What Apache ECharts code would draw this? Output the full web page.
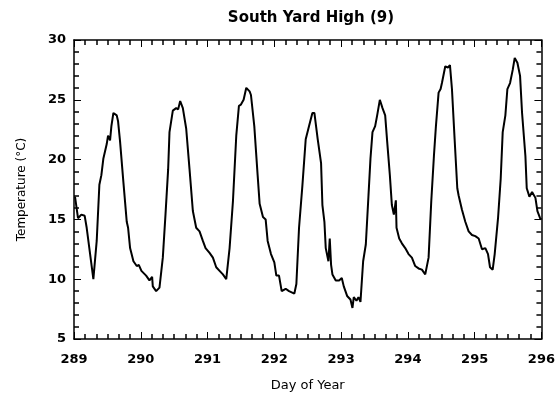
<!DOCTYPE html>
<html>
<head>
<meta charset="utf-8">
<script src="https://cdn.jsdelivr.net/npm/echarts@6/dist/echarts.min.js"></script>
<style>
  html, body { margin: 0; padding: 0; background: #fff; }
  #chart { width: 558px; height: 397px; }
</style>
</head>
<body>
<div id="chart"></div>
<script>
// day of year and temperature
const days = [
  289.015, 289.06, 289.11, 289.16, 289.19, 289.29, 289.34, 289.38, 289.41, 289.44,
  289.49, 289.51, 289.54, 289.56, 289.59, 289.64, 289.66, 289.69, 289.74, 289.79,
  289.81, 289.84, 289.89, 289.94, 289.97, 290.01, 290.03, 290.08, 290.13, 290.17,
  290.18, 290.23, 290.28, 290.33, 290.37, 290.41, 290.43, 290.48, 290.53, 290.56,
  290.59, 290.63, 290.68, 290.73, 290.78, 290.83, 290.88, 290.93, 290.97, 291.03,
  291.08, 291.13, 291.18, 291.23, 291.28, 291.33, 291.38, 291.43, 291.47, 291.50,
  291.54, 291.58, 291.63, 291.65, 291.70, 291.75, 291.78, 291.83, 291.87, 291.90,
  291.95, 292.00, 292.03, 292.07, 292.11, 292.17, 292.22, 292.30, 292.33, 292.37,
  292.42, 292.47, 292.52, 292.57, 292.60, 292.65, 292.70, 292.72, 292.75, 292.77,
  292.81, 292.83, 292.85, 292.87, 292.92, 292.97, 293.01, 293.04, 293.09, 293.14,
  293.17, 293.19, 293.23, 293.26, 293.29, 293.33, 293.37, 293.41, 293.44, 293.47,
  293.51, 293.54, 293.58, 293.62, 293.66, 293.69, 293.73, 293.76, 293.79, 293.82,
  293.83, 293.87, 293.91, 293.96, 294.01, 294.06, 294.11, 294.16, 294.21, 294.26,
  294.31, 294.35, 294.39, 294.42, 294.46, 294.49, 294.51, 294.56, 294.60, 294.63,
  294.66, 294.70, 294.74, 294.76, 294.81, 294.86, 294.91, 294.96, 295.01, 295.06,
  295.11, 295.16, 295.20, 295.23, 295.27, 295.30, 295.35, 295.39, 295.42, 295.46,
  295.49, 295.53, 295.57, 295.60, 295.64, 295.68, 295.71, 295.76, 295.78, 295.82,
  295.86, 295.91, 295.94, 295.98, 296.00
]
const temps = [
  16.9, 15.1, 15.4, 15.3, 14.3, 10.0, 13.2, 17.9, 18.7, 20.1,
  21.3, 22.0, 21.6, 22.8, 23.9, 23.7, 23.2, 21.5, 18.1, 14.8,
  14.3, 12.6, 11.5, 11.1, 11.2, 10.7, 10.8, 10.3, 9.9, 10.2,
  9.4, 9.0, 9.3, 11.8, 15.4, 19.2, 22.3, 24.1, 24.3, 24.2,
  24.9, 24.3, 22.6, 19.2, 15.7, 14.3, 14.0, 13.2, 12.6, 12.2,
  11.8, 11.0, 10.7, 10.4, 10.0, 12.6, 16.5, 22.0, 24.5, 24.6,
  25.0, 26.0, 25.7, 25.4, 22.8, 18.7, 16.3, 15.2, 15.0, 13.2,
  12.1, 11.4, 10.3, 10.3, 9.0, 9.2, 9.0, 8.8, 9.6, 14.3,
  17.8, 21.7, 22.8, 23.9, 23.9, 21.7, 19.7, 16.2, 14.8, 12.6,
  11.5, 13.4, 11.2, 10.4, 9.9, 9.9, 10.1, 9.4, 8.6, 8.3,
  7.6, 8.5, 8.2, 8.5, 8.1, 11.5, 12.9, 17.0, 20.1, 22.3,
  22.8, 23.7, 25.0, 24.3, 23.7, 21.5, 18.7, 16.2, 15.4, 16.6,
  14.3, 13.4, 13.0, 12.6, 12.1, 11.8, 11.1, 10.9, 10.8, 10.4,
  11.8, 16.5, 20.3, 22.8, 25.6, 25.9, 26.4, 27.8, 27.7, 27.9,
  25.9, 21.7, 17.6, 17.0, 15.8, 14.8, 14.0, 13.7, 13.6, 13.4,
  12.5, 12.6, 12.1, 11.0, 10.8, 12.1, 15.1, 18.4, 22.3, 23.7,
  25.9, 26.4, 27.5, 28.5, 28.1, 27.0, 23.9, 20.3, 17.6, 16.9,
  17.3, 16.8, 15.7, 15.1, 15.0
]

const xMin = 289, xMax = 296, xStep = 1
const yMin = 5, yMax = 30, yStep = 5

const fontFamily = '"DejaVu Sans", "Liberation Sans", sans-serif'

// frame axis with inward major + minor ticks
function frameAxis(extra, minorSplit) {
  return Object.assign({
    type: 'value',
    axisLine: { show: true, onZero: false, lineStyle: { color: '#000', width: 1.5 } },
    axisTick: { show: true, inside: true, length: 7 },
    minorTick: { show: true, splitNumber: minorSplit, length: 5, lineStyle: { color: '#000', width: 1.5 } },
    splitLine: { show: false }
  }, extra)
}

const chart = echarts.init(document.getElementById('chart'))

const option = {
  animation: false,
  backgroundColor: '#fff',
  title: {
    text: 'South Yard High (9)',
    left: 306,
    textAlign: 'center',
    top: 6,
    textStyle: { fontFamily, fontSize: 15, fontWeight: 'bold', color: '#000' }
  },
  grid: { left: 74, right: 15, top: 40, bottom: 55 },
  xAxis: [
    frameAxis({
      min: xMin, max: xMax, interval: xStep, position: 'bottom',
      name: 'Day of Year',
      nameLocation: 'middle',
      nameGap: 40,
      nameTextStyle: { fontFamily, fontSize: 13, color: '#000' },
      axisLabel: { margin: 14, fontFamily, fontSize: 13, fontWeight: 'bold', color: '#000' }
    }, 6),
    frameAxis({
      min: xMin, max: xMax, interval: xStep, position: 'top',
      axisLabel: { show: false }
    }, 6)
  ],
  yAxis: [
    frameAxis({
      min: yMin, max: yMax, interval: yStep, position: 'left',
      name: 'Temperature (°C)',
      nameLocation: 'middle',
      nameGap: 46,
      nameRotate: 90,
      nameTextStyle: { fontFamily, fontSize: 12, color: '#000' },
      axisLabel: { margin: 8, fontFamily, fontSize: 13, fontWeight: 'bold', color: '#000' }
    }, 5),
    frameAxis({
      min: yMin, max: yMax, interval: yStep, position: 'right',
      axisLabel: { show: false }
    }, 5)
  ],
  series: [
    {
      type: 'line',
      data: days.map((d, i) => [d, temps[i]]),
      showSymbol: false,
      lineStyle: { color: '#000', width: 2 }
    }
  ]
}

chart.setOption(option)
</script>
</body>
</html>
